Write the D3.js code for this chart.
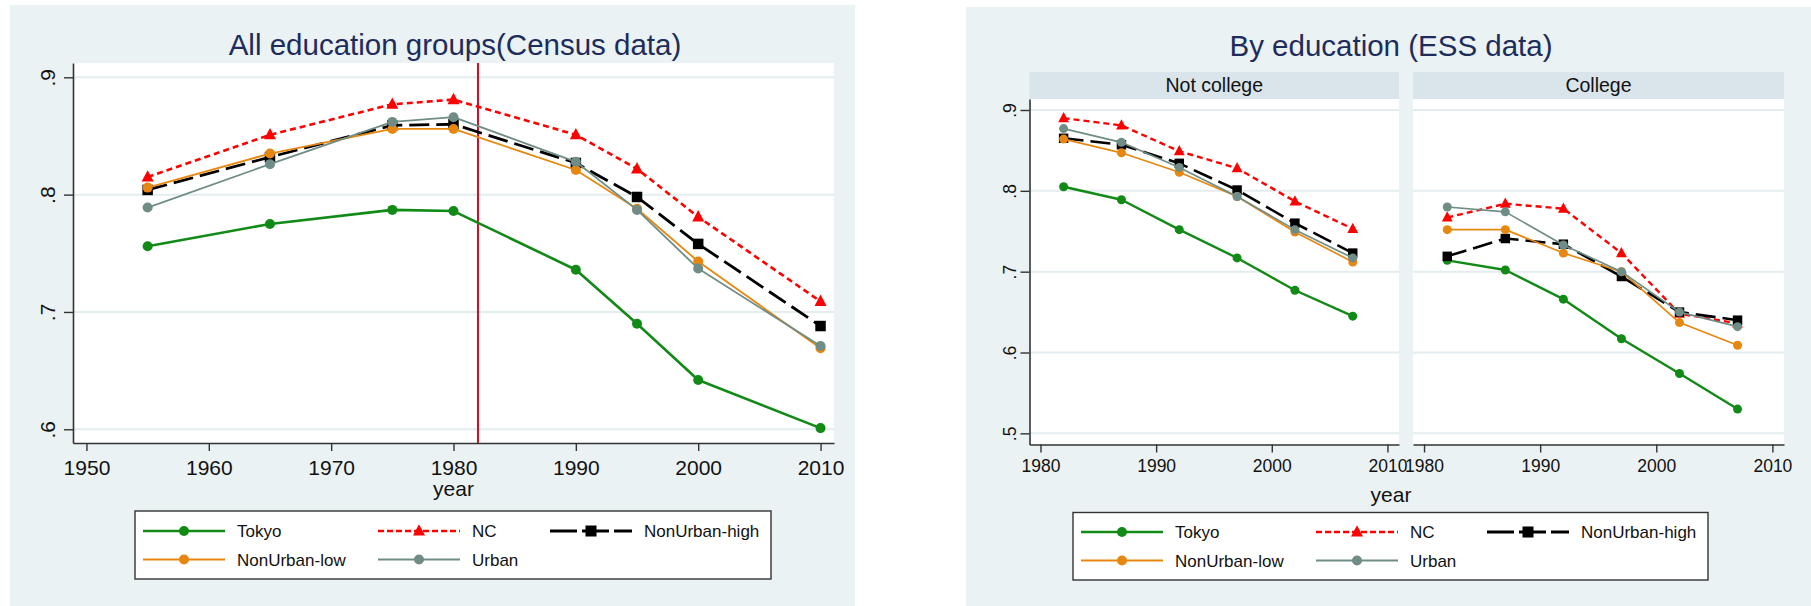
<!DOCTYPE html>
<html lang="en">
<head>
<meta charset="UTF-8">
<title>Tokyo vs regions</title>
<style>
  html, body { margin: 0; padding: 0; background: #ffffff; }
  svg { display: block; font-family: "Liberation Sans", Arial, sans-serif; }
</style>
</head>
<body>
<svg id="svg" width="1811" height="606"></svg>
<script src="https://d3js.org/d3.v7.min.js"></script>
<script>
// ---- data ----
const seriesNames = ["Tokyo", "NC", "NonUrban-high", "NonUrban-low", "Urban"];

// census panel
const censusYears = [1955, 1965, 1975, 1980, 1990, 1995, 2000, 2010];
const censusTokyo = [0.756, 0.775, 0.787, 0.786, 0.736, 0.690, 0.642, 0.601];
const censusNC = [0.815, 0.851, 0.877, 0.881, 0.851, 0.822, 0.781, 0.709];
const censusHigh = [0.804, 0.832, 0.859, 0.860, 0.827, 0.798, 0.758, 0.688];
const censusLow = [0.806, 0.835, 0.856, 0.856, 0.821, 0.788, 0.743, 0.669];
const censusUrban = [0.789, 0.826, 0.862, 0.866, 0.828, 0.787, 0.737, 0.671];
const censusYTicks = [0.6, 0.7, 0.8, 0.9];
const censusXTicks = [1950, 1960, 1970, 1980, 1990, 2000, 2010];
const breakYear = 1982;

// ESS panel
const essYears = [1982, 1987, 1992, 1997, 2002, 2007];
const notCollegeTokyo = [0.805, 0.789, 0.752, 0.717, 0.677, 0.645];
const notCollegeNC = [0.890, 0.881, 0.849, 0.828, 0.787, 0.753];
const notCollegeHigh = [0.865, 0.857, 0.834, 0.801, 0.760, 0.723];
const notCollegeLow = [0.864, 0.847, 0.823, 0.793, 0.749, 0.712];
const notCollegeUrban = [0.877, 0.860, 0.829, 0.793, 0.752, 0.717];
const collegeTokyo = [0.714, 0.702, 0.666, 0.617, 0.574, 0.530];
const collegeNC = [0.767, 0.784, 0.778, 0.723, 0.648, 0.636];
const collegeHigh = [0.719, 0.741, 0.734, 0.694, 0.650, 0.640];
const collegeLow = [0.752, 0.752, 0.723, 0.700, 0.637, 0.609];
const collegeUrban = [0.780, 0.774, 0.733, 0.700, 0.650, 0.632];
const essYTicks = [0.5, 0.6, 0.7, 0.8, 0.9];
const essXTicks = [1980, 1990, 2000, 2010];
const facetNames = ["Not college", "College"];

// ---- styles ----
const styles = {
  "Tokyo": { color: "#118a16", width: 2.6, dash: null, marker: "circle" },
  "NC": { color: "#ff0000", width: 2.6, dash: "6,4", marker: "triangle" },
  "NonUrban-high": { color: "#000000", width: 2.8, dash: "20,7", marker: "square" },
  "NonUrban-low": { color: "#e8870f", width: 1.8, dash: null, marker: "circle" },
  "Urban": { color: "#6f8d86", width: 1.8, dash: null, marker: "circle" }
};
const bg = "#eaf2f3";
const gridColor = "#e3ecef";
const axisColor = "#333333";
const titleColor = "#1e2c5c";

const svg = d3.select("#svg");

svg.append("rect").attr("x", 0).attr("y", 0).attr("width", 1811).attr("height", 606).attr("fill", "#ffffff");
svg.append("rect").attr("x", 10).attr("y", 5).attr("width", 845).attr("height", 601).attr("fill", bg);
svg.append("rect").attr("x", 966).attr("y", 7).attr("width", 845).attr("height", 599).attr("fill", bg);

function drawMarker(g, type, x, y, size, color) {
  if (type === "circle") {
    g.append("circle").attr("cx", x).attr("cy", y).attr("r", size / 2).attr("fill", color);
  } else if (type === "square") {
    g.append("rect").attr("x", x - size / 2).attr("y", y - size / 2)
      .attr("width", size).attr("height", size).attr("fill", color);
  } else {
    const h = size * 0.95;
    g.append("path")
      .attr("d", `M${x},${y - h * 0.6}L${x + size / 2},${y + h * 0.4}L${x - size / 2},${y + h * 0.4}Z`)
      .attr("fill", color);
  }
}

function drawSeries(g, x, y, years, values, name, scaleW, mSize) {
  const st = styles[name];
  const pts = years.map((yr, i) => [x(yr), y(values[i])]);
  g.append("path")
    .attr("d", d3.line()(pts))
    .attr("fill", "none")
    .attr("stroke", st.color)
    .attr("stroke-width", st.width * scaleW)
    .attr("stroke-dasharray", st.dash)
    .attr("stroke-linejoin", "round");
  pts.forEach(p => {
    const s = st.marker === "circle" ? mSize : (st.marker === "square" ? mSize * 1.05 : mSize * 1.2);
    drawMarker(g, st.marker, p[0], p[1], s, st.color);
  });
}

function drawGrid(g, y, ticks, x0, x1) {
  g.selectAll(null).data(ticks).join("line")
    .attr("x1", x0).attr("x2", x1)
    .attr("y1", d => y(d)).attr("y2", d => y(d))
    .attr("stroke", gridColor).attr("stroke-width", 2);
}

function fmtTick(d) { return d3.format(".1f")(d).replace(/^0/, ""); }

function styleAxis(ax, fontSize) {
  ax.select(".domain").attr("stroke", axisColor).attr("stroke-width", 1.6);
  ax.selectAll(".tick line").attr("stroke", axisColor).attr("stroke-width", 1.4);
  ax.selectAll(".tick text").attr("fill", "#111").style("font-size", fontSize + "px")
    .style("font-family", "'Liberation Sans', Arial, sans-serif");
}

function drawLegend(g, x0, y0, w, h, cols, rows, fontSize) {
  g.append("rect").attr("x", x0).attr("y", y0).attr("width", w).attr("height", h)
    .attr("fill", "#ffffff").attr("stroke", "#333").attr("stroke-width", 1.4);
  seriesNames.forEach((name, i) => {
    const st = styles[name];
    const cx = cols[i % 3];
    const cy = rows[Math.floor(i / 3)];
    g.append("line").attr("x1", cx).attr("x2", cx + 82).attr("y1", cy).attr("y2", cy)
      .attr("stroke", st.color).attr("stroke-width", st.width)
      .attr("stroke-dasharray", st.marker === "square" ? "27,5" : (st.dash ? "6,3" : null));
    const ms = st.marker === "circle" ? 10 : (st.marker === "square" ? 11 : 12);
    drawMarker(g, st.marker, cx + 41, cy, ms, st.color);
    g.append("text").attr("x", cx + 94).attr("y", cy + 6)
      .attr("fill", "#111").style("font-size", fontSize + "px").text(name);
  });
}

// ================= Census panel =================
{
  const g = svg.append("g");
  const left = 73, right = 834, top = 63, bottom = 443;
  const x = d3.scaleLinear().domain([1948.9, 2011.1]).range([left, right]);
  const y = d3.scaleLinear().domain([0.5883, 0.9122]).range([bottom, top]);

  g.append("rect").attr("x", left).attr("y", top).attr("width", right - left).attr("height", bottom - top)
    .attr("fill", "#ffffff");
  drawGrid(g, y, censusYTicks, left, right);

  g.append("line").attr("x1", x(breakYear)).attr("x2", x(breakYear)).attr("y1", top).attr("y2", bottom)
    .attr("stroke", "#c40f2e").attr("stroke-width", 2);

  const allVals = [censusTokyo, censusNC, censusHigh, censusLow, censusUrban];
  seriesNames.forEach((name, i) => drawSeries(g, x, y, censusYears, allVals[i], name, 1, 10));

  const ay = g.append("g").attr("transform", `translate(${left},0)`)
    .call(d3.axisLeft(y).tickValues(censusYTicks).tickSize(9).tickSizeOuter(0).tickFormat(fmtTick));
  styleAxis(ay, 21);
  ay.selectAll(".tick text").attr("transform", "rotate(-90)").attr("x", 0).attr("y", -25)
    .attr("dy", "0.35em").style("text-anchor", "middle");

  const ax = g.append("g").attr("transform", `translate(0,${bottom})`)
    .call(d3.axisBottom(x).tickValues(censusXTicks).tickSize(8).tickSizeOuter(0).tickFormat(d3.format("d")));
  styleAxis(ax, 21);
  ax.selectAll(".tick text").attr("y", 17);

  g.append("text").attr("x", (left + right) / 2).attr("y", 496).attr("text-anchor", "middle")
    .attr("fill", "#111").style("font-size", "21px").text("year");

  g.append("text").attr("x", 455).attr("y", 55).attr("text-anchor", "middle")
    .attr("fill", titleColor).style("font-size", "29.5px").text("All education groups(Census data)");

  drawLegend(g, 135, 511, 636, 68, [143, 378, 550], [531, 559.5], 17);
}

// ================= ESS panel =================
{
  const g = svg.append("g");
  const top = 99, bottom = 444.5, stripTop = 72;
  const facets = [[1029.5, 1399], [1413, 1784]];
  const y = d3.scaleLinear().domain([0.4862, 0.9136]).range([bottom, top]);
  const facetData = [
    [notCollegeTokyo, notCollegeNC, notCollegeHigh, notCollegeLow, notCollegeUrban],
    [collegeTokyo, collegeNC, collegeHigh, collegeLow, collegeUrban]
  ];

  facets.forEach(([l, r], fi) => {
    const x = d3.scaleLinear().domain([1979.05, 2011]).range([l, r]);
    g.append("rect").attr("x", l).attr("y", stripTop).attr("width", r - l).attr("height", top - stripTop)
      .attr("fill", "#d9e5eb");
    g.append("text").attr("x", (l + r) / 2).attr("y", 92).attr("text-anchor", "middle")
      .attr("fill", "#111").style("font-size", "19.5px").text(facetNames[fi]);
    g.append("rect").attr("x", l).attr("y", top).attr("width", r - l).attr("height", bottom - top)
      .attr("fill", "#ffffff");
    drawGrid(g, y, essYTicks, l, r);

    seriesNames.forEach((name, i) => drawSeries(g, x, y, essYears, facetData[fi][i], name, 0.92, 9));

    const ax = g.append("g").attr("transform", `translate(0,${bottom})`)
      .call(d3.axisBottom(x).tickValues(essXTicks).tickSize(8).tickSizeOuter(0).tickFormat(d3.format("d")));
    styleAxis(ax, 17.5);
    ax.selectAll(".tick text").attr("y", 15);

    if (fi === 0) {
      const ay = g.append("g").attr("transform", `translate(${l},0)`)
        .call(d3.axisLeft(y).tickValues(essYTicks).tickSize(9).tickSizeOuter(0).tickFormat(fmtTick));
      styleAxis(ay, 17.5);
      ay.selectAll(".tick text").attr("transform", "rotate(-90)").attr("x", 0).attr("y", -20)
        .attr("dy", "0.35em").style("text-anchor", "middle");
    }
  });

  g.append("text").attr("x", 1391).attr("y", 502).attr("text-anchor", "middle")
    .attr("fill", "#111").style("font-size", "21px").text("year");

  g.append("text").attr("x", 1391).attr("y", 56).attr("text-anchor", "middle")
    .attr("fill", titleColor).style("font-size", "29.5px").text("By education (ESS data)");

  drawLegend(g, 1073, 512.5, 635, 67.5, [1081, 1316, 1487], [532, 560.5], 17);
}
</script>
</body>
</html>
